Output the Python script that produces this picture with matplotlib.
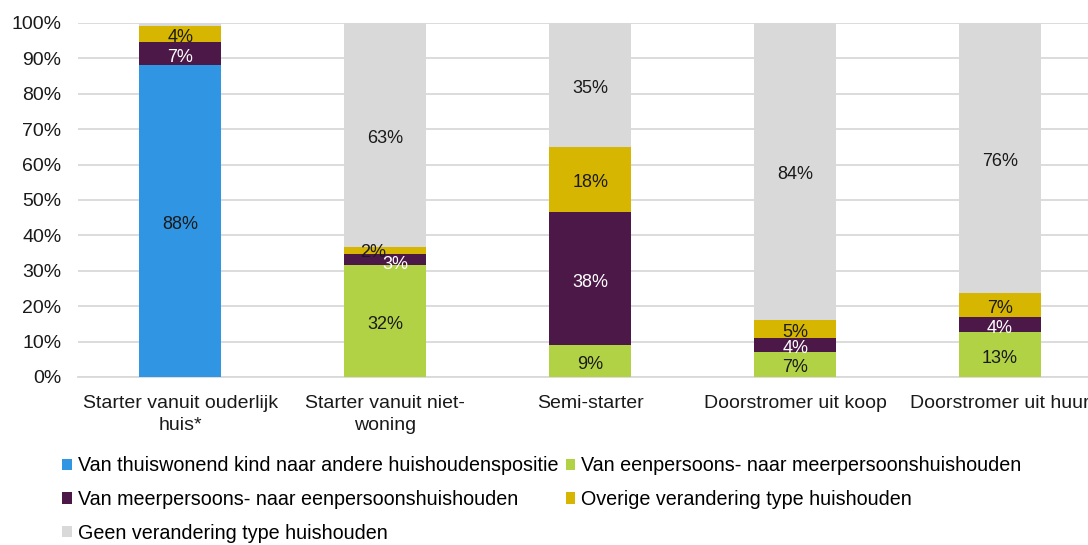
import numpy as np
import matplotlib
matplotlib.use("Agg")
import matplotlib.pyplot as plt

plt.rcParams["font.family"] = ["Liberation Sans", "DejaVu Sans"]

categories = [
    "Starter vanuit ouderlijk\nhuis*",
    "Starter vanuit niet-\nwoning",
    "Semi-starter",
    "Doorstromer uit koop",
    "Doorstromer uit huur",
]
series_names = [
    "Van thuiswonend kind naar andere huishoudenspositie",
    "Van eenpersoons- naar meerpersoonshuishouden",
    "Van meerpersoons- naar eenpersoonshuishouden",
    "Overige verandering type huishouden",
    "Geen verandering type huishouden",
]
thuiswonend = [88.0, 0.0, 0.0, 0.0, 0.0]
een_naar_meer = [0.0, 31.6, 9.0, 7.1, 12.6]
meer_naar_een = [6.6, 3.1, 37.6, 3.9, 4.4]
overige = [4.6, 2.1, 18.4, 5.1, 6.8]
geen = [0.8, 63.2, 35.0, 83.9, 76.2]
labels = [
    ["88%", "", "", "", ""],
    ["", "32%", "9%", "7%", "13%"],
    ["7%", "3%", "38%", "4%", "4%"],
    ["4%", "2%", "18%", "5%", "7%"],
    ["", "63%", "35%", "84%", "76%"],
]
colors = ["#3096E4", "#B2D245", "#4B1848", "#D6B600", "#D9D9D9"]
text_colors = ["#1a1a1a", "#1a1a1a", "white", "#1a1a1a", "#1a1a1a"]

data = [thuiswonend, een_naar_meer, meer_naar_een, overige, geen]

fig = plt.figure(figsize=(10.88, 5.45), dpi=100)
ax = fig.add_axes([0.0717, 0.3083, 0.9416, 0.6497])

x = np.arange(len(categories))
bottom = np.zeros(len(categories))
handles = []
for i, vals in enumerate(data):
    vals = np.asarray(vals) / 100.0
    h = ax.bar(x, vals, 0.4, bottom=bottom, color=colors[i], label=series_names[i], zorder=3)
    handles.append(h)
    for j, v in enumerate(vals):
        if not labels[i][j]:
            continue
        dx, dy = 0.0, -0.01
        # small segments in bar 2 pushed apart like the original
        if j == 1 and i == 3:
            dx, dy = -0.06, -0.005
        if j == 1 and i == 2:
            dx, dy = 0.05, -0.015
        ax.text(x[j] + dx, bottom[j] + v / 2 + dy, labels[i][j], ha="center", va="center",
                fontsize=13, color=text_colors[i], zorder=4)
    bottom += vals

ax.set_xlim(-0.5, len(categories) - 0.5)
ax.set_ylim(0, 1)
ax.set_yticks(np.arange(0, 1.01, 0.1))
ax.set_yticklabels([f"{int(round(t * 100))}%" for t in np.arange(0, 1.01, 0.1)])
ax.set_xticks(x)
ax.set_xticklabels(categories, linespacing=1.4)
ax.tick_params(axis="y", length=0, pad=12, labelsize=14, colors="#1a1a1a")
ax.tick_params(axis="x", length=0, pad=13, labelsize=14, colors="#1a1a1a")
ax.grid(axis="y", color="#D9D9D9", linewidth=1.3, zorder=0)
for s in ["top", "right", "left"]:
    ax.spines[s].set_visible(False)
ax.spines["bottom"].set_color("#D9D9D9")
ax.spines["bottom"].set_linewidth(1.3)

order = [0, 2, 4, 1, 3]
fig.legend([handles[k] for k in order], [series_names[k] for k in order],
           ncol=2, loc="upper left", bbox_to_anchor=(0.0574, 0.1625), frameon=False,
           fontsize=14.2, handlelength=0.5, handleheight=0.5, handletextpad=0.3,
           columnspacing=0.35, labelspacing=0.74, borderaxespad=0, borderpad=0)

fig.savefig("out.png", dpi=100)
